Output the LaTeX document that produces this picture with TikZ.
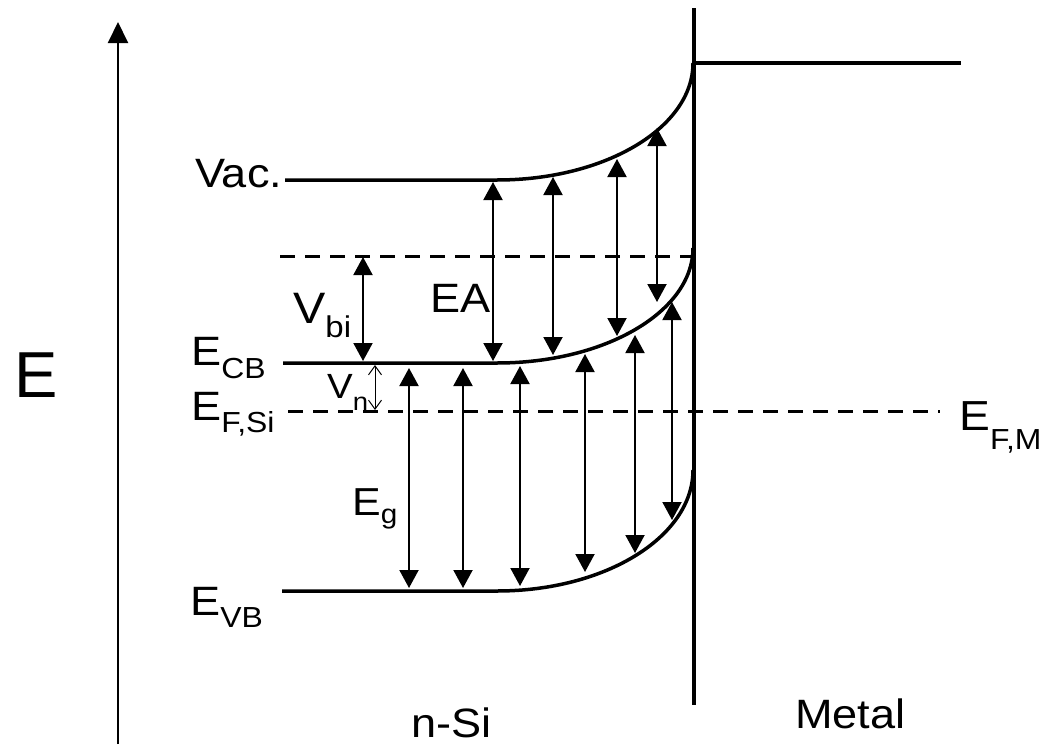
\documentclass[tikz,border=0pt]{standalone}
\usepackage{fontspec}
\setmainfont[FakeStretch=1.1]{Liberation Sans}
\newfontfamily\plainsans{Liberation Sans}
\usetikzlibrary{arrows.meta}
\newcommand{\mysub}[2][29]{{\fontsize{#1}{#1}\selectfont #2}}
\begin{document}
\begin{tikzpicture}[x=1pt,y=-1pt,
  band/.style={line width=3.5pt},
  dashline/.style={line width=3pt, dash pattern=on 15pt off 10pt},
  dbl/.style={line width=2pt, {Triangle[length=18pt,width=19pt]}-{Triangle[length=18pt,width=19pt]}},
  thinarr/.style={line width=1pt, {Straight Barb[length=9pt,width=13pt]}-{Straight Barb[length=9pt,width=13pt]}},
  axis/.style={line width=2pt, -{Triangle[length=21pt,width=20pt]}},
  lab/.style={inner sep=0pt, anchor=base west, font=\fontsize{41}{48}\selectfont},
]
\useasboundingbox (0,0) rectangle (1046,744);

% axis
\coordinate (axB) at (118,744);
\coordinate (axT) at (118,22);
\draw[axis] (axB) -- (axT);

% interface and metal level
\coordinate (ifT) at (694,8);
\coordinate (ifB) at (694,705);
\draw[band] (ifT) -- (ifB);
\coordinate (mL) at (694,63);
\coordinate (mR) at (961,63);
\draw[band] (mL) -- (mR);

% vacuum level
\coordinate (vacL) at (285,180);
\coordinate (vacK) at (497,180);
\coordinate (vacE) at (693,63);
\draw[band] (vacL) -- (vacK) .. controls (605.3,180) and (693,127.6) .. (vacE);

% conduction band
\coordinate (cbL) at (283,363);
\coordinate (cbK) at (497,363);
\coordinate (cbE) at (693,248);
\draw[band] (cbL) -- (cbK) .. controls (605.3,363) and (693,311.5) .. (cbE);

% valence band
\coordinate (vbL) at (282,591);
\coordinate (vbK) at (497,591);
\coordinate (vbE) at (693,470);
\draw[band] (vbL) -- (vbK) .. controls (605.3,591) and (693,536.8) .. (vbE);

% dashed levels
\coordinate (dvL) at (280,256);
\coordinate (dvR) at (693,256);
\draw[dashline] (dvL) -- (dvR);
\coordinate (fL) at (288,411);
\coordinate (fR) at (940,411);
\draw[dashline] (fL) -- (fR);

% EA arrows
\coordinate (a1t) at (493,182); \coordinate (a1b) at (493,361);
\coordinate (a2t) at (553,177); \coordinate (a2b) at (553,355);
\coordinate (a3t) at (617,159); \coordinate (a3b) at (617,336);
\coordinate (a4t) at (657,128); \coordinate (a4b) at (657,302);
\draw[dbl] (a1t) -- (a1b);
\draw[dbl] (a2t) -- (a2b);
\draw[dbl] (a3t) -- (a3b);
\draw[dbl] (a4t) -- (a4b);

% Eg arrows
\coordinate (g1t) at (409,368); \coordinate (g1b) at (409,588);
\coordinate (g2t) at (463,368); \coordinate (g2b) at (463,588);
\coordinate (g3t) at (520,366); \coordinate (g3b) at (520,586);
\coordinate (g4t) at (585,354); \coordinate (g4b) at (585,572);
\coordinate (g5t) at (635,335); \coordinate (g5b) at (635,553);
\coordinate (g6t) at (672,302); \coordinate (g6b) at (672,520);
\draw[dbl] (g1t) -- (g1b);
\draw[dbl] (g2t) -- (g2b);
\draw[dbl] (g3t) -- (g3b);
\draw[dbl] (g4t) -- (g4b);
\draw[dbl] (g5t) -- (g5b);
\draw[dbl] (g6t) -- (g6b);

% Vbi and Vn arrows
\coordinate (vbit) at (363,257); \coordinate (vbib) at (363,361);
\draw[dbl] (vbit) -- (vbib);
\coordinate (vnt) at (375,365); \coordinate (vnb) at (375,410);
\draw[thinarr] (vnt) -- (vnb);

% labels
\node[lab, font=\plainsans\fontsize{65}{70}\selectfont] (E) at (14,397) {E};
\node[lab] (vac) at (195,187) {Vac.};
\node[lab] (ecb) at (191,365) {E\raisebox{-13pt}{\mysub{CB}}};
\node[lab] (efsi) at (191,420) {E\raisebox{-12pt}{\mysub{F,Si}}};
\node[lab] (evb) at (190,615) {E\raisebox{-12pt}{\mysub{VB}}};
\node[lab, font=\fontsize{44}{50}\selectfont] (vbi) at (293,323) {V\raisebox{-14pt}{\mysub[30]{bi}}};
\node[lab, font=\fontsize{35}{40}\selectfont] (vn) at (327,398) {V\raisebox{-12pt}{\mysub[25]{n}}};
\node[lab] (ea) at (430,312) {EA};
\node[lab, font=\fontsize{39}{44}\selectfont] (eg) at (352,515) {E\raisebox{-8pt}{\mysub[27]{g}}};
\node[lab, font=\fontsize{42}{48}\selectfont] (efm) at (959,430) {E\raisebox{-19pt}{\mysub[29]{F,M}}};
\node[lab] (nsi) at (411,737) {n-Si};
\node[lab] (metal) at (795,728) {Metal};
\end{tikzpicture}
\end{document}
